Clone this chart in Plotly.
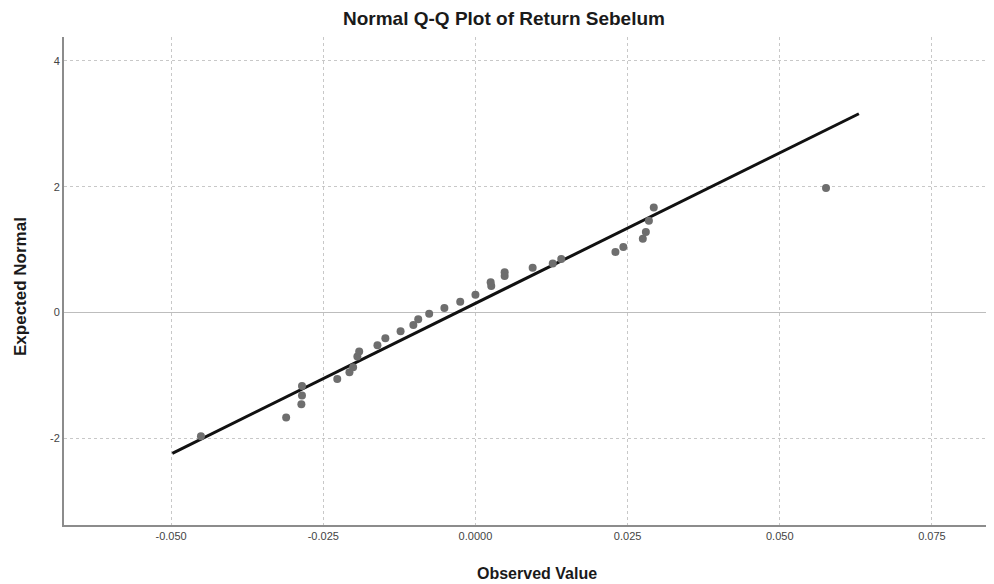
import plotly.graph_objects as go

observed = [-0.0451, -0.0311, -0.0286, -0.0285, -0.0285, -0.0227, -0.0207, -0.0201,
            -0.0194, -0.0191, -0.0161, -0.0148, -0.0123, -0.0102, -0.0094, -0.0076,
            -0.0051, -0.0025, 0.0000, 0.0026, 0.0025, 0.0048, 0.0048, 0.0094,
            0.0127, 0.0141, 0.0230, 0.0243, 0.0275, 0.0280, 0.0285, 0.0293, 0.0576]
expected = [-1.97, -1.67, -1.46, -1.32, -1.17, -1.06, -0.95, -0.87,
            -0.70, -0.62, -0.52, -0.41, -0.30, -0.20, -0.11, -0.02,
            0.07, 0.17, 0.28, 0.42, 0.48, 0.58, 0.64, 0.71,
            0.78, 0.85, 0.96, 1.04, 1.17, 1.28, 1.46, 1.67, 1.98]

# Reference line endpoints
line_x = [-0.0498, 0.0630]
line_y = [-2.24, 3.16]

x_ticks = [-0.050, -0.025, 0.0, 0.025, 0.050, 0.075]
x_tick_labels = ["-0.050", "-0.025", "0.0000", "0.025", "0.050", "0.075"]
y_ticks = [-2, 0, 2, 4]
y_tick_labels = ["-2", "0", "2", "4"]

fig = go.Figure()
fig.add_trace(go.Scatter(x=line_x, y=line_y, mode="lines",
                         line=dict(color="#111111", width=3), showlegend=False,
                         hoverinfo="skip"))
fig.add_trace(go.Scatter(x=observed, y=expected, mode="markers",
                         marker=dict(color="#6e6e6e", size=8), showlegend=False))

W, H = 986, 576  # page body has an 8px margin
grid = "#c8c8c8"
fig.update_layout(
    width=W, height=H,
    margin=dict(l=56, r=0, t=29, b=59),
    paper_bgcolor="white", plot_bgcolor="white",
    font=dict(family="Liberation Sans, Arial, sans-serif", color="#333333"),
    title=dict(text="<b>Normal Q-Q Plot of Return Sebelum</b>",
               x=(504 - 8) / W, xref="container", xanchor="center",
               y=1 - (18 - 8) / H, yref="container", yanchor="middle",
               font=dict(size=19, color="#1a1a1a")),
    xaxis=dict(range=[-0.0676, 0.0852], tickvals=x_ticks, ticktext=x_tick_labels,
               showgrid=True, gridcolor=grid, griddash="dot", gridwidth=1,
               zeroline=False, showline=True, linecolor="#8c8c8c", linewidth=2,
               ticks="", tickfont=dict(size=11, color="#444444")),
    yaxis=dict(range=[-3.38, 4.38], tickvals=y_ticks, ticktext=y_tick_labels,
               showgrid=True, gridcolor=grid, griddash="dot", gridwidth=1,
               zeroline=True, zerolinecolor="#bdbdbd", zerolinewidth=1,
               showline=True, linecolor="#8c8c8c", linewidth=2,
               ticks="", tickfont=dict(size=11, color="#444444")),
    annotations=[
        dict(text="<b>Observed Value</b>", xref="paper", yref="paper",
             x=(537 - 64) / 930, y=-(573 - 525) / 488, xanchor="center", yanchor="middle",
             showarrow=False, font=dict(size=16, color="#1a1a1a")),
        dict(text="<b>Expected Normal</b>", xref="paper", yref="paper",
             x=-(64 - 20) / 930, y=(525 - 287) / 488, xanchor="center", yanchor="middle",
             textangle=-90, showarrow=False, font=dict(size=17, color="#1a1a1a")),
    ],
)

fig.write_html("out.html")
